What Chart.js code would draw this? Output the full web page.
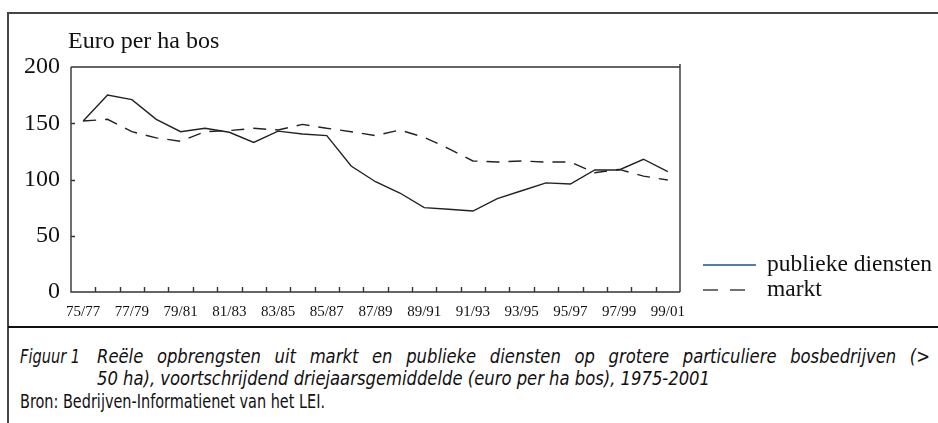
<!DOCTYPE html>
<html>
<head>
<meta charset="utf-8">
<script src="https://cdn.jsdelivr.net/npm/chart.js@4.4.1/dist/chart.umd.min.js"></script>
<style>
  html, body { margin: 0; padding: 0; background: #fff; }
  #wrap { position: relative; width: 938px; height: 423px; overflow: hidden; }
  #frame { position: absolute; left: 7px; top: 12px; width: 940px; height: 420px;
           border-left: 2px solid #444; border-top: 2px solid #444; }
  #sep { position: absolute; left: 8px; top: 326px; width: 930px; height: 2px; background: #111; }
  #chartBox { position: absolute; left: 0; top: 0; width: 938px; height: 327px; }
  .cap { position: absolute; font-family: 'Liberation Sans Narrow', 'DejaVu Sans Condensed', sans-serif;
         font-size: 20px; color: #111; white-space: nowrap; transform-origin: left top; }
  .it { font-style: italic; }
  #cap1 { text-align: justify; text-align-last: justify; }
</style>
</head>
<body>
<div id="wrap">
  <div id="frame"></div>
  <div id="chartBox"><canvas id="chart" width="938" height="327"></canvas></div>
  <div id="sep"></div>
  <div class="cap it" id="fig" style="left:20px; top:344px;">Figuur 1</div>
  <div class="cap it" id="cap1" style="left:97px; top:344px;">Reële opbrengsten uit markt en publieke diensten op grotere particuliere bosbedrijven (&gt;</div>
  <div class="cap it" id="cap2" style="left:97px; top:366px;">50 ha), voortschrijdend driejaarsgemiddelde (euro per ha bos), 1975-2001</div>
  <div class="cap" id="bron" style="left:20px; top:389px;">Bron: Bedrijven-Informatienet van het LEI.</div>
</div>
<script>
const periods = ['75/77', '76/78', '77/79', '78/80', '79/81', '80/82', '81/83', '82/84', '83/85',
  '84/86', '85/87', '86/88', '87/89', '88/90', '89/91', '90/92', '91/93', '92/94', '93/95',
  '94/96', '95/97', '96/98', '97/99', '98/00', '99/01'];
const publiekeDiensten = [152, 175, 171, 153.5, 142.5, 145.5, 142, 133, 143, 140.5, 139, 112, 98,
  88, 75, 73.5, 72, 83, 90, 97, 96, 108.5, 108.5, 118, 107];
const markt = [152, 153.5, 142.5, 137, 134, 142.5, 143.5, 145.5, 144, 149, 145.5, 142.5, 139,
  144, 137.5, 127.5, 116.5, 115.5, 116.5, 115.5, 115.5, 106, 109, 103, 99.5];
const yTicks = [0, 50, 100, 150, 200];

// narrow caption text like the original (condensed face)
const byId = id => document.getElementById(id);
const fitTo = (id, w) => {
  const el = byId(id);
  el.style.transform = 'scaleX(' + (w / el.getBoundingClientRect().width) + ')';
};
const s = 613 / byId('cap2').getBoundingClientRect().width;
byId('cap2').style.transform = 'scaleX(' + s + ')';
byId('cap1').style.width = (833 / s) + 'px';
byId('cap1').style.transform = 'scaleX(' + s + ')';
fitTo('fig', 60);
fitTo('bron', 305);

const serif = 'Liberation Serif, Times New Roman, serif';
Chart.defaults.font.family = serif;

// frame around plot, inward ticks, axis title and legend
const decor = {
  id: 'decor',
  afterDraw(chart) {
    const { ctx, chartArea: a, scales: { x, y } } = chart;
    ctx.save();
    ctx.strokeStyle = '#333';
    ctx.lineWidth = 1.4;
    ctx.beginPath();
    ctx.moveTo(a.left, a.top);
    ctx.lineTo(a.left, a.bottom);
    ctx.lineTo(a.right, a.bottom);
    ctx.moveTo(a.left, a.top);
    ctx.lineTo(a.right, a.top);
    ctx.moveTo(a.right, a.bottom);
    ctx.lineTo(a.right, a.top - 3);
    // x ticks at category borders
    for (let i = 0; i < periods.length - 1; i++) {
      const px = Math.round((x.getPixelForValue(i) + x.getPixelForValue(i + 1)) / 2) + 0.5;
      ctx.moveTo(px, a.bottom);
      ctx.lineTo(px, a.bottom - 5);
    }
    yTicks.slice(1, -1).forEach(v => {
      const py = Math.round(y.getPixelForValue(v)) + 0.5;
      ctx.moveTo(a.left, py);
      ctx.lineTo(a.left + 4, py);
    });
    ctx.stroke();

    ctx.fillStyle = '#111';
    ctx.font = '24px ' + serif;
    ctx.textBaseline = 'alphabetic';
    ctx.textAlign = 'left';
    ctx.fillText('Euro per ha bos', 68, 48);

    // legend
    ctx.font = '23.5px ' + serif;
    chart.data.datasets.forEach((ds, i) => {
      const ly = 265 + i * 25;
      ctx.beginPath();
      ctx.strokeStyle = ds.legendColor;
      ctx.lineWidth = 1.6;
      ctx.setLineDash(ds.legendDash);
      ctx.moveTo(703, ly);
      ctx.lineTo(i === 0 ? 756 : 746, ly);
      ctx.stroke();
      ctx.setLineDash([]);
      ctx.fillStyle = '#111';
      ctx.textBaseline = 'middle';
      ctx.fillText(ds.label, 767, ly);
    });
    ctx.restore();
  }
};

new Chart(document.getElementById('chart'), {
  type: 'line',
  data: {
    labels: periods,
    datasets: [{
      label: 'publieke diensten',
      data: publiekeDiensten,
      borderColor: '#222',
      borderWidth: 1.4,
      pointRadius: 0,
      tension: 0,
      legendColor: '#1f4e96',
      legendDash: []
    }, {
      label: 'markt',
      data: markt,
      borderColor: '#222',
      borderWidth: 1.4,
      borderDash: [13, 9],
      pointRadius: 0,
      tension: 0,
      legendColor: '#444',
      legendDash: [15, 12]
    }]
  },
  options: {
    responsive: false,
    animation: false,
    devicePixelRatio: 1,
    layout: { padding: { left: 0, top: 67, right: 258, bottom: 0 } },
    plugins: { legend: { display: false }, tooltip: { enabled: false } },
    scales: {
      x: {
        offset: true,
        grid: { display: false, drawTicks: false },
        border: { display: false },
        ticks: {
          autoSkip: false,
          maxRotation: 0,
          padding: 11,
          color: '#111',
          font: { family: serif, size: 15 },
          callback: (v, i) => (i % 2 === 0 ? periods[i] : '')
        },
        afterFit: sc => { sc.height = 35; }
      },
      y: {
        min: 0,
        max: 200,
        grid: { display: false, drawTicks: false },
        border: { display: false },
        ticks: {
          stepSize: 50,
          padding: 11,
          color: '#111',
          font: { family: serif, size: 24 }
        },
        afterFit: sc => { sc.width = 71; }
      }
    }
  },
  plugins: [decor]
});
</script>
</body>
</html>
